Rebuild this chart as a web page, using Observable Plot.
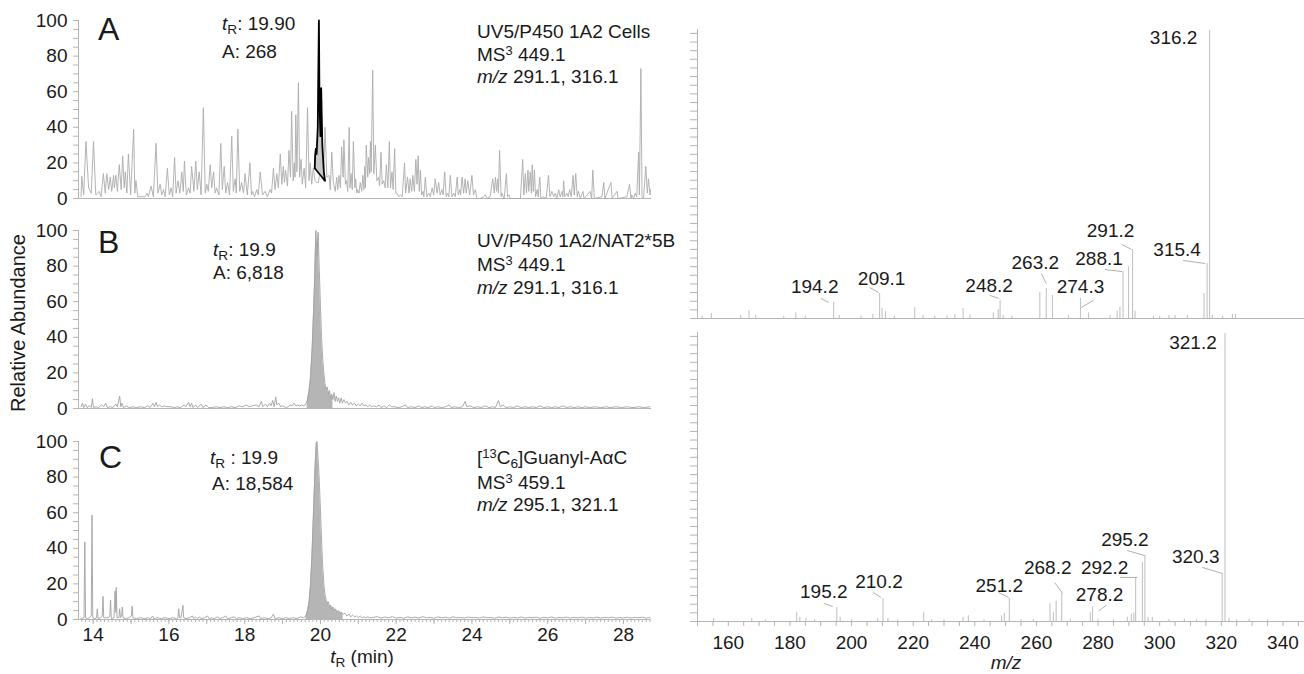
<!DOCTYPE html>
<html><head><meta charset="utf-8">
<script src="https://cdn.jsdelivr.net/npm/d3@7"></script>
<script src="https://cdn.jsdelivr.net/npm/@observablehq/plot@0.6"></script>
<style>
body{margin:0;background:#fff;}
#fig{position:relative;width:1304px;height:674px;overflow:hidden;font-family:'Liberation Sans',Arial,Helvetica,sans-serif;color:#1a1a1a;background:#fff;}
.p{position:absolute;}
.t{position:absolute;font-size:19px;line-height:22px;white-space:nowrap;}
.big{position:absolute;font-size:32px;line-height:32px;}
.sub{position:relative;top:0.32em;font-size:0.72em;line-height:0;}
.sup{position:relative;top:-0.45em;font-size:0.68em;line-height:0;}
</style></head><body><div id="fig"></div>
<script>
// ---------------- DATA ----------------
// Panel A: UV5/P450 1A2 cells, XIC trace (t in min, relative abundance %)
const traceA = [[13.68,1],[13.70,12.5],[13.75,2],[13.81,32],[13.88,6],[13.95,3],[14.01,32],[14.07,2],[14.16,4],[14.21,1],[14.27,14],[14.32,3],[14.36,14],[14.41,5],[14.45,12],[14.49,4],[14.54,13],[14.56,6],[14.60,13],[14.64,4],[14.69,19],[14.74,5],[14.78,24],[14.82,6],[14.85,15],[14.89,3],[14.93,25],[14.99,2],[15.07,39],[15.10,3],[15.13,10],[15.18,1],[15.28,1],[15.37,1],[15.42,3],[15.46,1],[15.53,7],[15.59,1],[15.66,31],[15.71,3],[15.77,8],[15.81,2],[15.86,5],[15.90,1],[15.96,17],[16.01,2],[16.06,6],[16.10,1],[16.15,23],[16.19,3],[16.24,10],[16.29,3],[16.34,15],[16.38,4],[16.41,21],[16.46,2],[16.52,6],[16.56,3],[16.60,18],[16.66,4],[16.71,21],[16.75,5],[16.80,15],[16.85,2],[16.91,51],[16.96,3],[17.00,8],[17.04,4],[17.09,19],[17.13,6],[17.18,15],[17.22,3],[17.26,6],[17.32,2],[17.37,31],[17.41,5],[17.46,18],[17.50,3],[17.55,9],[17.60,2],[17.66,35],[17.70,4],[17.75,11],[17.78,3],[17.82,39],[17.87,4],[17.92,9],[17.97,3],[18.01,14],[18.07,2],[18.14,20],[18.18,2],[18.21,4],[18.26,1],[18.32,5],[18.36,2],[18.41,15],[18.47,2],[18.54,4],[18.60,1],[18.67,5],[18.71,3],[18.76,17],[18.80,5],[18.85,14],[18.89,6],[18.94,25],[18.98,8],[19.02,18],[19.05,9],[19.08,16],[19.13,7],[19.17,27],[19.21,12],[19.24,49],[19.28,10],[19.31,20],[19.33,12],[19.35,47],[19.38,15],[19.42,65],[19.45,12],[19.49,22],[19.52,8],[19.57,17],[19.61,6],[19.66,51],[19.70,10],[19.73,20],[19.77,8],[19.81,17],[19.86,10],[19.90,9],[19.95,9],[20.02,22],[20.08,10],[20.12,40],[20.17,12],[20.23,13],[20.26,5],[20.30,26],[20.34,9],[20.39,4],[20.43,12],[20.46,5],[20.49,13],[20.53,6],[20.56,29],[20.60,12],[20.62,33],[20.66,8],[20.69,10],[20.72,4],[20.76,40],[20.78,6],[20.81,14],[20.84,5],[20.87,32],[20.91,6],[20.93,11],[20.96,3],[20.98,5],[21.02,3],[21.05,9],[21.09,4],[21.12,13],[21.15,5],[21.17,18],[21.19,6],[21.21,30],[21.25,12],[21.27,23],[21.30,14],[21.32,32],[21.34,15],[21.38,72],[21.41,14],[21.45,30],[21.49,10],[21.54,12],[21.56,7],[21.60,26],[21.63,8],[21.67,10],[21.71,6],[21.74,19],[21.78,6],[21.82,32],[21.85,6],[21.89,15],[21.92,5],[21.96,28],[21.99,3],[22.02,3],[22.07,1],[22.11,2],[22.16,1],[22.22,20],[22.25,3],[22.30,12],[22.34,3],[22.37,11],[22.41,4],[22.44,13],[22.48,4],[22.52,22],[22.55,8],[22.58,24],[22.61,4],[22.64,16],[22.67,2],[22.71,4],[22.73,1],[22.77,12],[22.81,1],[22.86,3],[22.90,1],[22.95,6],[22.99,2],[23.03,11],[23.08,3],[23.12,9],[23.16,2],[23.21,5],[23.24,2],[23.28,15],[23.32,1],[23.36,3],[23.39,1],[23.43,13],[23.47,1],[23.52,3],[23.56,1],[23.61,12],[23.64,2],[23.68,5],[23.70,2],[23.74,12],[23.78,3],[23.82,11],[23.85,3],[23.89,10],[23.94,2],[24.00,13],[24.04,2],[24.09,5],[24.13,0],[24.22,0],[24.31,1],[24.35,2],[24.40,0],[24.48,1],[24.55,11],[24.59,3],[24.62,12],[24.65,4],[24.68,11],[24.70,3],[24.73,27],[24.77,1],[24.79,3],[24.85,0],[24.91,14],[24.94,1],[24.97,2],[25.01,0],[25.28,0],[25.34,22],[25.37,2],[25.41,14],[25.44,3],[25.48,16],[25.50,4],[25.54,15],[25.57,3],[25.59,19],[25.62,4],[25.65,16],[25.68,1],[25.72,5],[25.75,1],[25.79,12],[25.82,0],[25.89,1],[25.96,0],[26.02,13],[26.06,1],[26.11,4],[26.16,1],[26.20,3],[26.24,0],[26.29,5],[26.33,1],[26.38,4],[26.40,1],[26.42,10],[26.45,1],[26.51,3],[26.54,1],[26.58,5],[26.62,1],[26.67,13],[26.70,2],[26.74,14],[26.78,1],[26.81,4],[26.86,0],[26.93,4],[26.96,0],[27.12,4],[27.16,0],[27.19,16],[27.23,0],[27.43,1],[27.48,9],[27.51,0],[27.67,9],[27.70,0],[27.83,4],[27.86,0],[28.09,1],[28.16,8],[28.20,0],[28.22,2],[28.27,0],[28.31,3],[28.35,1],[28.40,26],[28.42,2],[28.46,73],[28.49,1],[28.53,0],[28.59,18],[28.63,3],[28.66,11],[28.70,2],[28.72,5]];
// Panel A: integrated target peak and its integration baseline
const peakA = [[19.85,17],[19.86,24],[19.88,28],[19.90,25],[19.93,40],[19.96,100],[19.975,55],[20.00,35],[20.02,62],[20.05,30],[20.09,15],[20.12,10]];
const peakABase = [[19.85,17],[20.12,10]];

// Panel B: UV/P450 1A2/NAT2*5B
const traceB = [[13.68,1],[13.72,3],[13.75,0.5],[13.80,2.5],[13.84,0.5],[13.90,1.5],[13.95,0.5],[13.98,5.5],[14.01,0.5],[14.08,1],[14.14,0.5],[14.22,2],[14.28,1],[14.33,3],[14.38,0.5],[14.45,1],[14.52,0.5],[14.60,2.5],[14.64,1],[14.70,7],[14.73,1],[14.76,3],[14.80,0.5],[14.88,1.5],[14.95,0.5],[15.05,1],[15.15,0.5],[15.25,1],[15.35,0.5],[15.45,1.5],[15.50,0.5],[15.58,3],[15.62,1],[15.66,3.5],[15.70,1],[15.75,2],[15.80,1],[15.88,1.5],[15.95,1],[16.05,1],[16.15,0.5],[16.22,1],[16.30,0.5],[16.40,2],[16.45,1],[16.52,3.5],[16.56,1],[16.60,3],[16.64,0.5],[16.70,2],[16.76,0.5],[16.85,2.5],[16.90,0.5],[16.98,2],[17.05,0.5],[17.15,0.5],[17.25,1],[17.35,0.5],[17.45,1],[17.55,0.5],[17.65,1],[17.75,0.5],[17.85,1.5],[17.95,1],[18.05,2],[18.12,1],[18.20,1.5],[18.30,2],[18.38,1],[18.44,4],[18.48,1],[18.55,2.5],[18.60,1],[18.66,3],[18.70,1.5],[18.74,4.5],[18.78,1],[18.82,6.5],[18.85,2],[18.90,3],[18.95,1],[19.00,1.5],[19.05,1],[19.10,0.5],[19.15,1],[19.20,2],[19.25,1.5],[19.30,3],[19.35,1.5],[19.40,2],[19.45,1.5],[19.50,2],[19.55,1.5],[19.60,2],[19.65,4],[19.70,10],[19.74,18],[19.78,33],[19.82,55],[19.85,75],[19.88,100],[19.91,86],[19.94,99],[19.97,78],[20.00,58],[20.03,40],[20.06,28],[20.09,20],[20.12,14],[20.15,11],[20.18,12],[20.21,8],[20.24,10],[20.27,6],[20.30,8],[20.33,5],[20.36,9],[20.39,4],[20.42,7],[20.45,4],[20.48,6],[20.51,3],[20.55,6],[20.58,3],[20.62,5],[20.66,3],[20.70,4],[20.75,2],[20.80,3.5],[20.85,2],[20.90,3],[20.95,1.5],[21.00,2.5],[21.05,1.5],[21.10,3],[21.15,1.5],[21.20,2],[21.25,1],[21.30,2],[21.35,1],[21.40,1.5],[21.48,1],[21.55,2],[21.60,0.5],[21.68,1.5],[21.75,0.5],[21.82,2],[21.88,1],[21.95,1],[22.05,0.5],[22.15,1],[22.25,2],[22.30,0.5],[22.40,1],[22.50,0.5],[22.60,1.5],[22.68,0.5],[22.75,1],[22.85,0.5],[22.95,1.5],[23.00,0.5],[23.10,1],[23.20,0.5],[23.30,1],[23.40,2],[23.45,0.5],[23.55,1],[23.65,0.5],[23.75,1],[23.82,4],[23.86,1],[23.95,1.5],[24.05,0.5],[24.15,1],[24.25,0.5],[24.35,1.5],[24.45,0.5],[24.55,1],[24.62,0.5],[24.70,4.5],[24.75,1],[24.82,2],[24.90,0.5],[25.00,1],[25.10,0.5],[25.20,1.5],[25.30,0.5],[25.40,1],[25.50,0.5],[25.60,1],[25.70,0.5],[25.80,1.5],[25.90,0.5],[26.00,1],[26.10,0.5],[26.20,1],[26.30,0.5],[26.40,1.5],[26.50,0.5],[26.60,1],[26.70,0.5],[26.80,1],[26.90,0.5],[27.00,1],[27.10,0.5],[27.25,1],[27.40,0.5],[27.55,1],[27.65,0.5],[27.80,1],[27.95,0.5],[28.10,1],[28.25,0.5],[28.40,1],[28.55,0.5],[28.70,1]];
const windowB = [19.62, 20.34];

// Panel C: [13C6]Guanyl-AaC internal standard
const traceC = [[13.68,0.5],[13.76,1],[13.78,43.6],[13.80,1],[13.85,0.5],[13.90,1],[13.95,2],[13.97,58.6],[13.99,1],[14.05,0.5],[14.09,1],[14.11,6],[14.13,0.5],[14.20,1],[14.24,2],[14.26,13],[14.28,1],[14.35,1],[14.40,1],[14.44,2],[14.46,11],[14.48,0.5],[14.55,1],[14.58,16],[14.60,4],[14.61,18],[14.63,1],[14.68,1],[14.70,6],[14.72,1],[14.75,2],[14.77,7],[14.79,1],[14.88,0.5],[14.95,1],[15.01,2],[15.03,7.5],[15.05,1],[15.15,0.5],[15.25,1],[15.35,0.5],[15.45,1],[15.52,0.5],[15.57,2],[15.60,0.5],[15.70,1],[15.80,0.5],[15.90,1],[16.00,0.5],[16.10,1],[16.20,0.5],[16.24,1],[16.26,6],[16.28,1],[16.32,1],[16.37,8],[16.39,1],[16.45,0.5],[16.55,1],[16.62,2],[16.66,0.5],[16.70,1.5],[16.75,0.5],[16.80,1.5],[16.85,0.5],[16.95,1],[17.02,2],[17.06,0.5],[17.12,1],[17.20,0.5],[17.28,1.5],[17.35,0.5],[17.42,1],[17.50,2],[17.55,0.5],[17.65,1],[17.72,1.5],[17.78,0.5],[17.85,1],[17.95,0.5],[18.05,1],[18.15,0.5],[18.25,1],[18.38,2],[18.42,0.5],[18.52,1],[18.62,0.5],[18.70,1],[18.76,3],[18.80,0.5],[18.90,1],[19.00,0.5],[19.08,1],[19.18,0.5],[19.28,1],[19.38,0.5],[19.48,1.5],[19.55,1],[19.62,2],[19.66,5],[19.70,10],[19.74,20],[19.78,38],[19.82,62],[19.86,86],[19.89,99],[19.91,100],[19.94,90],[19.97,78],[20.00,62],[20.03,45],[20.06,30],[20.09,20],[20.12,14],[20.15,11],[20.18,9],[20.21,10],[20.24,7],[20.27,8],[20.30,6],[20.33,7],[20.36,5],[20.40,6],[20.44,4],[20.48,5],[20.52,3.5],[20.56,4],[20.60,3],[20.65,3.5],[20.70,2],[20.75,3],[20.80,1.5],[20.85,2.5],[20.90,1.5],[20.95,2],[21.00,1],[21.05,2],[21.10,1],[21.15,1.5],[21.20,1],[21.25,1.5],[21.30,1],[21.40,1.2],[21.50,1.6],[21.60,0.8],[21.70,1.4],[21.80,1],[21.90,1.6],[22.00,0.8],[22.10,1.2],[22.20,0.7],[22.30,1.5],[22.40,1],[22.50,1.3],[22.60,0.8],[22.70,1.6],[22.80,1],[22.90,1.2],[23.00,0.7],[23.10,1.5],[23.20,1],[23.30,1.3],[23.40,0.8],[23.50,1.5],[23.60,1],[23.70,1.2],[23.80,0.8],[23.90,1.4],[24.00,1],[24.10,1.2],[24.20,0.8],[24.30,1.5],[24.40,1],[24.50,1.2],[24.60,0.7],[24.70,1.4],[24.80,1],[24.90,1.3],[25.00,0.8],[25.10,1.2],[25.20,0.9],[25.30,1.4],[25.40,0.8],[25.50,1.2],[25.60,1],[25.70,1.3],[25.80,0.7],[25.90,1.2],[26.00,0.9],[26.10,1.4],[26.20,0.8],[26.30,1.1],[26.40,1],[26.50,1.3],[26.60,0.8],[26.70,1.2],[26.80,0.9],[26.90,1.3],[27.00,0.8],[27.10,1.1],[27.20,0.9],[27.30,1.3],[27.40,0.8],[27.50,1.2],[27.60,1],[27.70,1.3],[27.80,0.8],[27.90,1.1],[28.00,0.9],[28.10,1.3],[28.20,0.8],[28.30,1.2],[28.40,1],[28.50,1.3],[28.60,0.8],[28.70,1.1]];
const windowC = [19.60, 20.60];

const timeTicks = [14, 16, 18, 20, 22, 24, 26, 28];
const abundTicks = [0, 20, 40, 60, 80, 100];

// MS3 spectrum of the cell sample (m/z, relative intensity %)
const specTop = [[151.5,0.8],[154.5,1.7],[164,1],[166.7,2.8],[168.9,1],[178,0.8],[181.9,2],[185,0.8],[194.2,5.6],[196,1],[203.1,0.8],[206.9,1.5],[209.1,8.7],[209.9,3.5],[211,2.4],[213.9,0.8],[220.5,3.8],[223.2,1],[227,0.8],[231,0.8],[233.5,1.2],[236.2,3.5],[238.4,1.2],[246,2],[247.6,3],[248.2,6.3],[249.2,1],[252,0.8],[261.1,9],[263.2,10.4],[265.2,8],[270.4,1],[274.3,7],[276.9,2],[283.9,1],[286.2,2.5],[287.1,4],[288.1,16.3],[289.9,18],[291.2,24],[292,2.5],[298,0.8],[300,0.8],[303,1],[305,1],[309,1],[314.4,8.7],[315.4,19.1],[316.2,100],[317.1,1],[320.4,0.8],[323.6,1.5],[324.6,1.5]];
const specTopLabels = ["316.2","315.4","291.2","288.1","263.2","274.3","248.2","209.1","194.2"];

// MS3 spectrum of the [13C6] standard
const specBot = [[155.2,1],[167.6,1],[172,0.6],[182.2,3.2],[183.2,1.5],[185.2,1],[188,0.6],[195.2,4.9],[196.3,1.5],[200,0.6],[208.5,1],[210.2,8],[211.8,1],[215,0.6],[223.4,3.2],[226,0.6],[230,0.6],[236.2,1.5],[237.9,2],[243,0.6],[248.7,2],[249.6,2.8],[251.2,8],[255,0.6],[259,0.6],[264.4,6.2],[265.5,3],[266.4,7],[268.2,9.7],[271,0.8],[277.5,3],[278.2,5],[280,0.8],[285,0.6],[289.5,1.5],[290.8,2.5],[291.6,3],[292.2,15.3],[294.4,20.6],[295.2,22.9],[296.2,1.5],[297.6,1.5],[303,0.6],[308,0.8],[312,0.6],[315,0.6],[320.3,16.7],[321.2,100],[322.5,1],[325,0.6],[329,0.8],[335,0.6]];
const specBotLabels = ["321.2","320.3","295.2","292.2","278.2","268.2","251.2","210.2","195.2"];

const mzTicks = [160, 180, 200, 220, 240, 260, 280, 300, 320, 340];

// ---------------- LAYOUT / STYLE ----------------
const FONT = "'Liberation Sans', Arial, Helvetica, sans-serif";
const INK = "#1a1a1a", AXIS = "#b4b4b4", LINE_A = "#ababab", LINE = "#a2a2a2", FILL = "#b5b5b5", SPEC = "#c4c4c4", LEAD = "#b0b0b0";
const tDomain = [13.64, 28.74];
const mzDomain = [150, 347];
const fig = document.getElementById("fig");
const X = d => d[0], Y = d => d[1];

// label placement (px, relative to the peak top): [dx, dy, leaderStartX, leaderStartY, leaderEndX, leaderEndY]
const topLayout = {"316.2":[-36,7],"315.4":[-30,-14,-24,-3,-2,0],"291.2":[-22,-18,-11,-5,-1,0],"288.1":[-24,-13,-18,-2,-1,0],"263.2":[-11,-26,-5,-15,0,-5],"274.3":[0,-11,13,2,1,9],"248.2":[-11,-14,-10.5,-5,-1.5,-2],"209.1":[2,-15,-10,-6,-1,-1],"194.2":[-19,-15,-13,-4,-5,0]};
const botLayout = {"321.2":[-32,9],"320.3":[-26.5,-16,-20,-6,0,0],"295.2":[-20,-16,-17.6,-5,0,0],"292.2":[-31,-10,-15.5,0,1.5,0],"278.2":[7,-12,14,-2,6,4],"268.2":[-14,-26,-7,-11,1,0],"251.2":[-10,-13,-10.7,-6,-0.7,-1],"210.2":[-4,-17,-10,-6,-2,-1],"195.2":[-13,-15,-13,-4,-4,-1]};

function place(node, left, top, w) {
  const d = document.createElement("div");
  d.className = "p"; d.style.left = left + "px"; d.style.top = top + "px"; d.style.width = w + "px";
  d.appendChild(node); fig.appendChild(d);
}
const baseStyle = {fontFamily: FONT, fontSize: "19px", color: INK, background: "transparent", overflow: "visible"};

function chrom({trace, window, blackPeak, blackBase, top, height, mt, mb, xAxis, lineColor}) {
  const marks = [
    Plot.ruleY([0], {stroke: AXIS}),
    Plot.ruleX([tDomain[0]], {y1: 0, y2: 100, stroke: AXIS, dx: -1}),
    Plot.axisY(d3.range(0, 101, 5), {tickSize: 6, tickFormat: () => "", stroke: AXIS, label: null}),
    Plot.axisY(abundTicks, {tickSize: 0, tickPadding: 12, fill: INK, label: null})
  ];
  if (window) marks.push(Plot.areaY(trace.filter(d => d[0] >= window[0] && d[0] <= window[1]), {x: X, y: Y, fill: FILL}));
  marks.push(Plot.line(trace, {x: X, y: Y, stroke: lineColor || LINE, strokeWidth: 0.9}));
  if (blackPeak) {
    const base = d3.scaleLinear().domain(blackBase.map(X)).range(blackBase.map(Y));
    marks.push(Plot.areaY(blackPeak, {x: X, y1: d => base(d[0]), y2: Y, fill: "#c8c8c8"}));
    marks.push(Plot.line(blackPeak, {x: X, y: Y, stroke: "#000", strokeWidth: 1.8}));
    marks.push(Plot.line(blackBase, {x: X, y: Y, stroke: "#000", strokeWidth: 1.7}));
  }
  if (xAxis) {
    marks.push(Plot.axisX(d3.range(137, 288).map(d => d / 10), {tickSize: 3, tickFormat: () => "", stroke: AXIS, label: null}));
    marks.push(Plot.axisX(d3.range(14, 29), {tickSize: 5, tickFormat: () => "", stroke: AXIS, label: null}));
    marks.push(Plot.axisX(timeTicks, {tickSize: 0, tickPadding: 8, fill: INK, label: null}));
  }
  const p = Plot.plot({
    width: 660, height, marginLeft: 79, marginRight: 9, marginTop: mt, marginBottom: mb,
    x: {domain: tDomain, ...(xAxis ? {label: null} : {axis: null})},
    y: {domain: [0, 100], label: null},
    style: baseStyle, marks
  });
  place(p, 0, top, 660);
}

function spectrum({peaks, labels, layout, top, height, mt, mb, xAxis}) {
  const kx = 607 / (mzDomain[1] - mzDomain[0]);
  const ky = 288 / 100;
  const lab = labels.map(s => {
    const mz = +s, pk = peaks.find(d => d[0] === mz), L = layout[s];
    return {text: s, mz, int: pk[1], lx: mz + L[0] / kx, ly: pk[1] - L[1] / ky,
      lead: L.length > 2 ? {x1: mz + L[2] / kx, y1: pk[1] - L[3] / ky, x2: mz + L[4] / kx, y2: pk[1] - L[5] / ky} : null};
  });
  const marks = [
    Plot.ruleY([0], {stroke: AXIS}),
    Plot.ruleX([mzDomain[0]], {y1: 0, y2: 100.4, stroke: AXIS}),
    Plot.axisY(d3.range(0, 100.5, 3), {tickSize: 7, tickFormat: () => "", stroke: AXIS, label: null}),
    Plot.ruleX(peaks, {x: X, y1: 0, y2: Y, stroke: SPEC, strokeWidth: 1.1}),
    Plot.link(lab.filter(d => d.lead), {x1: d => d.lead.x1, y1: d => d.lead.y1, x2: d => d.lead.x2, y2: d => d.lead.y2, stroke: LEAD, strokeWidth: 1}),
    Plot.text(lab, {x: "lx", y: "ly", text: "text", fontSize: 19, fill: INK})
  ];
  if (xAxis) {
    marks.push(Plot.axisX(d3.range(150, 346, 5), {tickSize: 5, tickFormat: () => "", stroke: AXIS, label: null}));
    marks.push(Plot.axisX(mzTicks, {tickSize: 0, tickPadding: 14, fill: INK, label: null}));
  }
  const p = Plot.plot({
    width: 644, height, marginLeft: 37, marginRight: 0, marginTop: mt, marginBottom: mb,
    x: {domain: mzDomain, ...(xAxis ? {label: null} : {axis: null})},
    y: {domain: [0, 100], label: null},
    style: baseStyle, marks
  });
  place(p, 660, top, 644);
}

chrom({trace: traceA, blackPeak: peakA, blackBase: peakABase, top: 0, height: 210, mt: 20, mb: 12, lineColor: LINE_A});
chrom({trace: traceB, window: windowB, top: 210, height: 210, mt: 20, mb: 12});
chrom({trace: traceC, window: windowC, top: 420, height: 254, mt: 21, mb: 55, xAxis: true});
spectrum({peaks: specTop, labels: specTopLabels, layout: topLayout, top: 0, height: 326, mt: 30, mb: 8});
spectrum({peaks: specBot, labels: specBotLabels, layout: botLayout, top: 326, height: 348, mt: 7, mb: 53, xAxis: true});

// ---------------- TEXT ----------------
const tR = `<i>t</i><span class="sub">R</span>`;
const T = (l, t, html) => `<div class="t" style="left:${l}px;top:${t}px">${html}</div>`;
const B = (l, t, s) => `<div class="big" style="left:${l}px;top:${t}px">${s}</div>`;
const ov = document.createElement("div");
ov.innerHTML = [
  B(98, 13, "A"), B(98, 226, "B"), B(99, 441, "C"),
  T(222, 13, `${tR}: 19.90`), T(222, 41, "A: 268"),
  T(477, 21, "UV5/P450 1A2 Cells"), T(477, 44, `MS<span class="sup">3</span> 449.1`), T(477, 66, `<i>m/z</i> 291.1, 316.1`),
  T(213, 239, `${tR}: 19.9`), T(213, 262, "A: 6,818"),
  T(477, 230, "UV/P450 1A2/NAT2*5B"), T(477, 254, `MS<span class="sup">3</span> 449.1`), T(477, 277, `<i>m/z</i> 291.1, 316.1`),
  T(210, 447, `${tR} : 19.9`), T(212, 473, "A: 18,584"),
  T(477, 447, `[<span class="sup">13</span>C<span class="sub">6</span>]Guanyl-AαC`), T(477, 472, `MS<span class="sup">3</span> 459.1`), T(477, 494, `<i>m/z</i> 295.1, 321.1`),
  `<div class="t" style="left:362px;top:646px;transform:translateX(-50%)">${tR} (min)</div>`,
  `<div class="t" style="left:1006px;top:652px;transform:translateX(-50%)"><i>m/z</i></div>`,
  `<div class="t" style="left:18px;top:323px;font-size:20px;transform:translate(-50%,-50%) rotate(-90deg)">Relative Abundance</div>`
].join("");
while (ov.firstChild) fig.appendChild(ov.firstChild);
</script></body></html>
